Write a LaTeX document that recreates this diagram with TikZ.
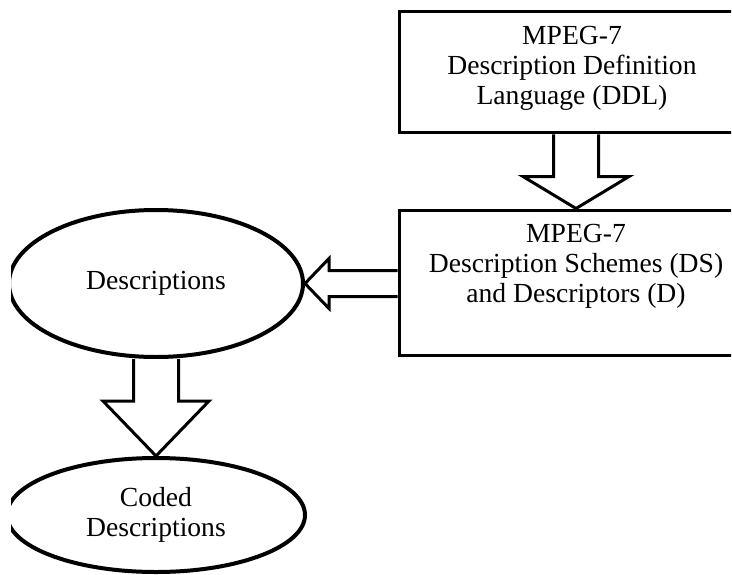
\documentclass[tikz,border=0pt]{standalone}
\usepackage{fontspec}
\setmainfont{Liberation Serif}
\usetikzlibrary{calc, positioning, shapes.geometric}
\tikzset{
  spec box/.style={rectangle, draw=black, line width=1.5pt, fill=white, inner sep=0pt},
  box text/.style={align=center, inner sep=0pt, anchor=north},
  data ellipse/.style={ellipse, draw=black, line width=2pt, fill=white, inner sep=0pt, align=center},
  fat arrow/.style={draw=black, line width=1.5pt, fill=white, line join=miter}
}

\begin{document}
\begin{tikzpicture}[x=0.5pt, y=0.5pt, font=\fontsize{13.8}{15}\selectfont]
  \useasboundingbox (0,0) rectangle (732,574);
  \begin{scope}
    \clip (11,0) rectangle (731,574);

    % --- MPEG-7 boxes (cut off at the right edge) ---
    \node[spec box, minimum width=173pt, minimum height=60.5pt] (ddl) at (572,501.5) {};
    \node[box text] (ddl text) at ($(ddl.north)+(0,-15)$)
      {MPEG-7\\Description Definition\\Language (DDL)};

    \node[spec box, minimum width=177pt, minimum height=72.5pt] (ds) at (576,291.5) {};
    \node[box text] (ds text) at ($(ds.north)+(0,-15)$)
      {MPEG-7\\Description Schemes (DS)\\and Descriptors (D)};

    % --- Descriptions (cut off at the left edge) ---
    \node[data ellipse, minimum width=147pt, minimum height=73.5pt] (desc) at (156,290.5) {Descriptions};
    \node[data ellipse, minimum width=149pt, minimum height=57pt] (coded) at (156,59) {Coded\\Descriptions};

    % --- Block arrows ---
    % DDL -> DS
    \draw[fat arrow] ($(ds.north |- ddl.south)+(-22.5,0)$) -- ($(ds.north)+(-22.5,32)$)
      -- ($(ds.north)+(-53,32)$) -- (ds.north) -- ($(ds.north)+(53,32)$)
      -- ($(ds.north)+(22.5,32)$) -- ($(ds.north |- ddl.south)+(22.5,0)$);
    % DS -> Descriptions
    \draw[fat arrow] ($(desc.east -| ds.west)+(0,13)$) -- ($(desc.east)+(24,13)$)
      -- ($(desc.east)+(24,25)$) -- (desc.east) -- ($(desc.east)+(24,-25)$)
      -- ($(desc.east)+(24,-13)$) -- ($(desc.east -| ds.west)+(0,-13)$);
    % Descriptions -> Coded Descriptions
    \draw[fat arrow] ($(desc.south)+(-22.5,0)$) -- ($(coded.north)+(-22.5,55)$)
      -- ($(coded.north)+(-53,55)$) -- (coded.north) -- ($(coded.north)+(53,55)$)
      -- ($(coded.north)+(22.5,55)$) -- ($(desc.south)+(22.5,0)$);
  \end{scope}
\end{tikzpicture}
\end{document}
